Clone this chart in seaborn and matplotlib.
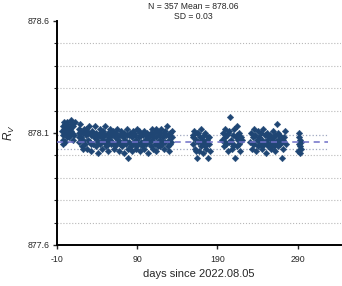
import numpy as np
import pandas as pd
import matplotlib
matplotlib.use("Agg")
import matplotlib.pyplot as plt
import seaborn as sns
from matplotlib.ticker import MultipleLocator, FixedLocator

# points, one cluster per observing run
run1 = [(-4, 878.11), (-3, 878.13), (-2, 878.09), (-1, 878.12), (0, 878.14), (1, 878.10),
        (2, 878.13), (3, 878.15), (4, 878.11), (5, 878.08), (6, 878.12), (7, 878.14),
        (8, 878.16), (9, 878.10), (10, 878.13), (11, 878.09), (12, 878.15), (-3, 878.07),
        (0, 878.06), (2, 878.08), (-2, 878.05), (5, 878.12), (8, 878.11), (10, 878.07),
        (-1, 878.15), (3, 878.10), (6, 878.09), (1, 878.13)]

run2 = [(17, 878.10), (17, 878.06), (18, 878.12), (19, 878.14), (20, 878.08), (21, 878.04),
        (22, 878.10), (23, 878.07), (24, 878.12), (25, 878.05), (26, 878.09), (27, 878.03),
        (28, 878.11), (29, 878.07), (30, 878.13), (31, 878.06), (32, 878.09), (33, 878.02),
        (34, 878.11), (35, 878.05), (36, 878.08), (37, 878.13), (38, 878.04), (39, 878.10),
        (40, 878.07), (41, 878.01), (42, 878.09), (43, 878.12), (44, 878.05), (45, 878.08),
        (46, 878.03), (47, 878.11), (48, 878.06), (49, 878.09), (50, 878.13), (51, 878.04),
        (52, 878.07), (53, 878.10), (54, 878.02), (55, 878.08), (56, 878.12), (57, 878.05),
        (58, 878.09), (59, 878.06), (60, 878.11), (61, 878.03), (62, 878.08), (63, 878.10),
        (64, 878.05), (65, 878.12), (66, 878.07), (67, 878.02), (68, 878.09), (69, 878.06),
        (70, 878.11), (71, 878.04), (72, 878.08), (73, 878.10), (74, 878.01), (75, 878.07),
        (76, 878.05), (77, 878.09), (78, 878.03), (79, 877.99), (80, 878.06), (81, 878.10),
        (82, 878.04), (83, 878.08), (84, 878.02), (85, 878.11), (86, 878.06), (87, 878.09),
        (88, 878.03), (89, 878.07), (90, 878.12), (91, 878.05), (92, 878.08), (93, 878.02),
        (94, 878.10), (95, 878.06), (96, 878.04), (97, 878.09), (98, 878.11), (99, 878.03),
        (100, 878.07), (101, 878.05), (102, 878.10), (103, 878.08), (104, 878.01), (105, 878.06),
        (106, 878.09), (107, 878.04), (108, 878.12), (109, 878.07), (110, 878.03), (111, 878.10),
        (112, 878.05), (113, 878.08), (114, 878.02), (115, 878.11), (116, 878.06), (117, 878.09),
        (118, 878.04), (119, 878.07), (120, 878.12), (121, 878.05), (122, 878.08), (123, 878.03),
        (124, 878.10), (125, 878.06), (126, 878.09), (127, 878.13), (128, 878.04), (129, 878.07),
        (130, 878.02), (131, 878.10), (132, 878.06), (133, 878.08),
        (18, 878.08), (20, 878.11), (23, 878.03), (26, 878.12), (29, 878.10), (32, 878.05),
        (35, 878.10), (38, 878.08), (41, 878.06), (44, 878.10), (47, 878.07), (50, 878.09),
        (53, 878.05), (56, 878.07), (59, 878.10), (62, 878.04), (65, 878.08), (68, 878.05),
        (71, 878.09), (74, 878.06), (77, 878.12), (80, 878.09), (83, 878.05), (86, 878.10),
        (89, 878.04), (92, 878.11), (95, 878.09), (98, 878.06), (101, 878.09), (104, 878.07),
        (107, 878.10), (110, 878.08), (113, 878.12), (116, 878.04), (119, 878.10), (122, 878.06),
        (125, 878.11), (128, 878.09), (131, 878.05), (133, 878.11)]

run3 = [(159, 878.09), (160, 878.05), (161, 878.11), (162, 878.03), (163, 878.07), (164, 877.99),
        (165, 878.10), (166, 878.06), (167, 878.02), (168, 878.08), (169, 878.12), (170, 878.04),
        (171, 878.07), (172, 878.01), (173, 878.09), (174, 878.05), (175, 878.10), (176, 878.03),
        (177, 878.07), (178, 877.99), (179, 878.05), (180, 878.08), (181, 878.02), (160, 878.08),
        (163, 878.02), (166, 878.10), (169, 878.06), (172, 878.07), (175, 878.04), (178, 878.08)]

run4 = [(196, 878.07), (197, 878.10), (198, 878.04), (199, 878.08), (200, 878.12), (201, 878.05),
        (202, 878.09), (203, 878.02), (204, 878.06), (205, 878.11), (206, 878.17), (207, 878.07),
        (208, 878.03), (209, 878.09), (210, 878.05), (211, 878.12), (212, 877.99), (213, 878.08),
        (214, 878.04), (215, 878.13), (216, 878.07), (217, 878.10), (218, 878.02), (219, 878.08),
        (200, 878.06), (203, 878.10), (209, 878.04), (214, 878.09), (217, 878.05), (221, 878.07)]

run5 = [(231, 878.06), (232, 878.10), (233, 878.03), (234, 878.08), (235, 878.12), (236, 878.05),
        (237, 878.09), (238, 878.02), (239, 878.07), (240, 878.11), (241, 878.04), (242, 878.08),
        (243, 878.06), (244, 878.10), (245, 878.03), (246, 878.07), (247, 878.12), (248, 878.05),
        (249, 878.09), (250, 878.01), (251, 878.06), (252, 878.10), (253, 878.04), (254, 878.08),
        (255, 878.05), (256, 878.09), (257, 878.03), (258, 878.07), (259, 878.11), (260, 878.04),
        (261, 878.08), (262, 878.02), (263, 878.06), (264, 878.14), (265, 878.07), (266, 878.04),
        (267, 878.09), (268, 878.05), (269, 878.08), (270, 877.99), (271, 878.06), (272, 878.03),
        (273, 878.08), (274, 878.11), (275, 878.05),
        (234, 878.05), (240, 878.07), (246, 878.04), (252, 878.07), (258, 878.05), (262, 878.09),
        (266, 878.10), (272, 878.07)]

run6 = [(292, 878.10), (293, 878.07), (292, 878.05), (294, 878.03), (293, 878.01), (292, 878.08),
        (294, 878.06), (293, 878.04), (291, 878.02)]

n_total = 357
mean_val = 878.06
sd_val = 0.03
xticks = [-10, 90, 190, 290]
yticks = [877.6, 878.1, 878.6]

df = pd.DataFrame(run1 + run2 + run3 + run4 + run5 + run6, columns=["days", "Rv"])

sns.set_style("white")
plt.rcParams["font.family"] = ["Liberation Sans", "DejaVu Sans"]
plt.rcParams["mathtext.fontset"] = "custom"
plt.rcParams["mathtext.rm"] = "Liberation Sans"
plt.rcParams["mathtext.it"] = "Liberation Sans:italic"

fig = plt.figure(figsize=(3.42, 2.86), dpi=100)
ax = fig.add_axes([57 / 342, 1 - 245 / 286, 1 - 57 / 342 - 0.003, (245 - 21) / 286])

ax.set_xlim(-10, 344)
ax.set_ylim(877.6, 878.6)

ax.yaxis.set_major_locator(FixedLocator(yticks))
ax.yaxis.set_minor_locator(MultipleLocator(0.1))
ax.xaxis.set_major_locator(FixedLocator(xticks))
ax.set_yticklabels([f"{v:.1f}" for v in yticks])
ax.set_xticklabels([str(v) for v in xticks])
ax.grid(which="minor", axis="y", ls=":", color="#b8b8b8", lw=0.8)

for v in (mean_val - sd_val, mean_val + sd_val):
    ax.plot([-10, 328], [v, v], ls=":", color="#a0a8c0", lw=0.9, zorder=1)

sns.scatterplot(data=df, x="days", y="Rv", marker="D", s=11, color="#1f4674",
                edgecolor="#1f4674", linewidth=0.3, ax=ax, zorder=3)

ax.plot([-10, 328], [mean_val, mean_val], ls=(0, (4, 3)), color="#6f6fc8", lw=1.1, zorder=4)

for s in ("top", "right"):
    ax.spines[s].set_visible(False)
ax.spines["left"].set_linewidth(1.4)
ax.spines["bottom"].set_linewidth(1.4)
ax.spines["left"].set_color("black")
ax.spines["bottom"].set_color("black")

ax.tick_params(axis="both", which="major", direction="out", length=3, width=1, labelsize=6.3,
               left=True, bottom=True, pad=2)
ax.tick_params(axis="y", which="minor", direction="out", length=2, width=0.8, left=True)
ax.tick_params(axis="x", pad=4)

ax.set_xlabel("days since 2022.08.05", fontsize=8, labelpad=4)
ax.set_ylabel(r"$R_V$", fontsize=8.5, labelpad=8)

fig.text(193 / 342, 1 - 2 / 286, f"N = {n_total} Mean = {mean_val:.2f}\nSD = {sd_val:.2f}",
         ha="center", va="top", fontsize=6.2, linespacing=1.2)

fig.savefig("out.png", dpi=100)
